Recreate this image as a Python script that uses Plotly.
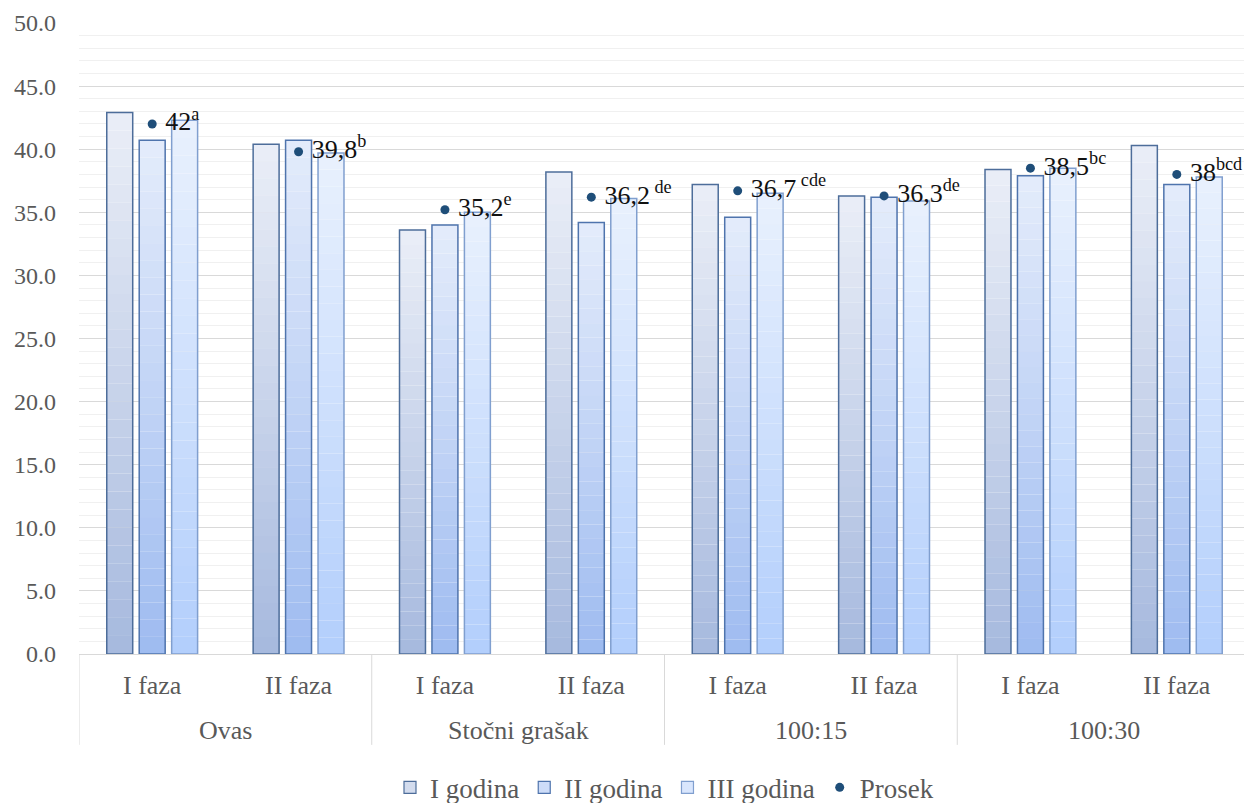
import plotly.graph_objects as go

# ---------------- data ----------------
group_names = ["Ovas", "Stočni grašak", "100:15", "100:30"]
phases = ["I faza", "II faza", "I faza", "II faza", "I faza", "II faza", "I faza", "II faza"]

godina_1 = [42.9, 40.4, 33.6, 38.2, 37.2, 36.3, 38.4, 40.3]
godina_2 = [40.7, 40.7, 34.0, 34.2, 34.6, 36.2, 37.9, 37.2]
godina_3 = [42.3, 39.7, 35.0, 36.1, 36.5, 35.9, 38.5, 37.8]
prosek = [42.0, 39.8, 35.2, 36.2, 36.7, 36.3, 38.5, 38.0]
prosek_labels = ["42<sup>a</sup>", "39,8<sup>b</sup>", "35,2<sup>e</sup>", "36,2<sup> de</sup>",
                 "36,7<sup> cde</sup>", "36,3<sup>de</sup>", "38,5<sup>bc</sup>", "38<sup>bcd</sup>"]

series_names = ["I godina", "II godina", "III godina"]
y_ticks = [0, 5, 10, 15, 20, 25, 30, 35, 40, 45, 50]

# ---------------- style ----------------
styles = {
    "I godina": {"top": (234, 238, 247), "bottom": (166, 185, 222), "line": "#4d6d9a", "legend": "#d3dcee"},
    "II godina": {"top": (228, 236, 251), "bottom": (158, 187, 240), "line": "#4f74ad", "legend": "#cddcf8"},
    "III godina": {"top": (233, 241, 253), "bottom": (178, 206, 252), "line": "#809fcf", "legend": "#d9e6fd"},
}
FONT = "Liberation Serif"
GRID = "#d9d9d9"
K = 30

xpos = list(range(len(phases)))
per_group = len(phases) // len(group_names)
fig = go.Figure()


def mix(c1, c2, t):
    return "rgb(%d,%d,%d)" % tuple(round(a + (b - a) * t) for a, b in zip(c1, c2))


for name, vals in zip(series_names, [godina_1, godina_2, godina_3]):
    st = styles[name]
    # gradient body (stacked slices of each bar, derived from the values)
    for k in range(K):
        t = (k + 0.5) / K
        fig.add_trace(go.Bar(
            x=xpos, y=[v / K for v in vals], base=[v * k / K for v in vals],
            offsetgroup=name, marker=dict(color=mix(st["bottom"], st["top"], t), line=dict(width=0)),
            showlegend=False, hoverinfo="skip",
        ))
    # outline
    fig.add_trace(go.Bar(
        x=xpos, y=vals, offsetgroup=name, name=name,
        marker=dict(color="rgba(0,0,0,0)", line=dict(color=st["line"], width=1.5)),
        showlegend=False,
    ))
    # legend entry
    fig.add_trace(go.Bar(
        x=xpos, y=[None] * len(vals), offsetgroup=name, name=name,
        marker=dict(color=st["legend"], line=dict(color=st["line"], width=1.2)),
        showlegend=True, hoverinfo="skip",
    ))

fig.add_trace(go.Scatter(
    x=xpos, y=prosek, name="Prosek", mode="markers+text",
    marker=dict(color="#1f4e79", size=9),
    text=[" " + t for t in prosek_labels], textposition="middle right",
    textfont=dict(family=FONT, size=26, color="#111111"),
))

# group labels and dividers of the two-level category axis
for gi, g in enumerate(group_names):
    center = gi * per_group + (per_group - 1) / 2
    fig.add_annotation(x=center, xref="x", y=-0.122, yref="paper", text=g, showarrow=False,
                       yanchor="middle", font=dict(family=FONT, size=26, color="#595959"))
for gi in range(len(group_names) + 1):
    xd = gi * per_group - 0.5
    fig.add_shape(type="line", xref="x", yref="paper", x0=xd, x1=xd, y0=0, y1=-0.144,
                  line=dict(color=GRID, width=1))

fig.update_layout(
    width=1244, height=795,
    margin=dict(l=71, r=2, t=15, b=149, autoexpand=False),
    paper_bgcolor="white", plot_bgcolor="white",
    barmode="group", bargap=0.335, bargroupgap=0.2,
    font=dict(family=FONT, color="#595959", size=22),
    legend=dict(orientation="h", x=0.5, xanchor="center", y=-0.212, yanchor="middle",
                font=dict(family=FONT, size=27, color="#595959"), itemwidth=30,
                traceorder="normal"),
    showlegend=True,
)

fig.update_yaxes(
    range=[0, 50], tickvals=y_ticks, tickformat=".1f", automargin=False,
    showgrid=True, gridcolor=GRID, gridwidth=1,
    minor=dict(dtick=1, showgrid=True, gridcolor="#f0f0f0", gridwidth=1),
    zeroline=False, showline=False, ticks="", ticklabelstandoff=22,
    tickfont=dict(family=FONT, size=24, color="#595959"),
)
fig.update_xaxes(
    range=[-0.5, len(phases) - 0.5], tickvals=xpos, ticktext=phases, automargin=False,
    showline=True, linecolor=GRID, linewidth=1, ticklabelstandoff=8,
    tickfont=dict(family=FONT, size=26, color="#595959"),
    showgrid=False, zeroline=False, ticks="",
)

fig.write_html("out.html")
